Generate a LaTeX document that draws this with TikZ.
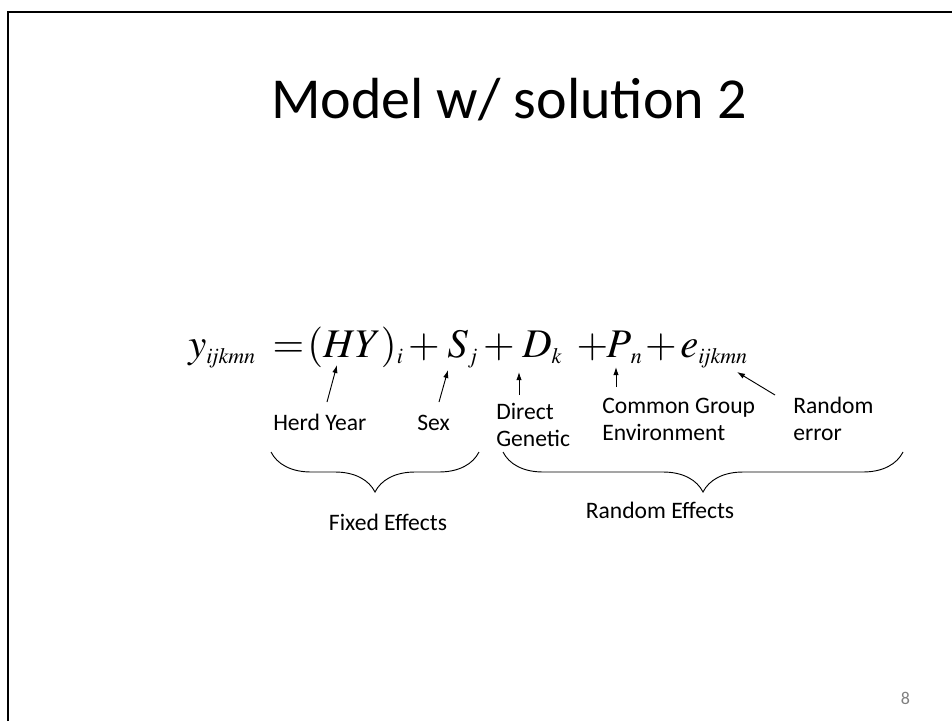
\documentclass[tikz,border=0pt]{standalone}
\usepackage{mathptmx}
\usepackage[no-math]{fontspec}
\setmainfont{Carlito}
\DeclareMathSizes{30.5}{30.5}{16.5}{12}
\usetikzlibrary{arrows.meta,decorations.pathreplacing}

\begin{document}
\begin{tikzpicture}[x={(0.75pt,0)}, y={(0,-0.75pt)},
  lbl/.style={font=\fontsize{17.7}{20.25}\selectfont, inner sep=0pt, anchor=base west, align=left},
  eqn/.style={font=\fontsize{30.5}{36}\selectfont, inner sep=0pt, anchor=base west},
  op/.style={eqn, anchor=base},
  ptr/.style={-{Latex[length=6pt,width=4pt]}, line width=0.7pt},
  brc/.style={decorate, decoration={brace, mirror, amplitude=30pt}, line width=0.7pt}]

\useasboundingbox (0,0) rectangle (952,721);

% Slide frame
\draw[line width=1.9pt] (8,721) -- (8,12) -- (952,12);

% Title
\node[font=\fontsize{43.5}{52}\selectfont, inner sep=0pt, anchor=base] (title) at (509,118) {Model w/ solution 2};

% Equation, term by term
\foreach \x/\t/\n in {188/{y_{\mathit{ijkmn}}}/yy, 307/{(HY)_i}/hy, 447/{S_j}/ss,
    522/{D_k}/dd, 606/{P_{\mkern4mu n}}/pp, 680/{e_{\mathit{ijkmn}}}/ee}
  \node[eqn] (\n) at (\x,357) {$\t$};
% operators, centred where the slide has them
\foreach \x/\t/\n in {288.5/=/eq, 424/+/p1, 499/+/p2, 592.5/+/p3, 661/+/p4}
  \node[op] (\n) at (\x,357) {$\t$};

% Labels under the terms (base = last line)
\node[lbl] (herd) at (273,430) {Herd Year};
\node[lbl] (sex) at (417,430) {Sex};
\node[lbl] (direct) at (496,446) {Direct\\Genetic};
\node[lbl] (common) at (602,440) {Common Group\\Environment};
\node[lbl] (rnderr) at (793,440) {Random\\error};

% Pointers from labels to terms
\foreach \n/\a/\b/\c/\d in {hy/327/402/337/365, ss/439/402/448/370, dd/519/395/519/372,
    pp/616/387/616/367, ee/775/395/737/372} {
  \coordinate (\n foot) at (\a,\b);
  \coordinate (\n tip) at (\c,\d);
  \draw[ptr] (\n foot) -- (\n tip);
}

% Braces
\draw[brc] (271,452) -- (479,452);
\draw[brc] (503,452) -- (903,452);
\node[lbl, anchor=base] (fixed) at (388,530) {Fixed Effects};
\node[lbl, anchor=base] (random) at (660,518) {Random Effects};

% Page number
\node[font=\fontsize{13.5}{16}\selectfont, text=gray, inner sep=0pt, anchor=base] (pgnum) at (905.5,704) {8};

\end{tikzpicture}
\end{document}
